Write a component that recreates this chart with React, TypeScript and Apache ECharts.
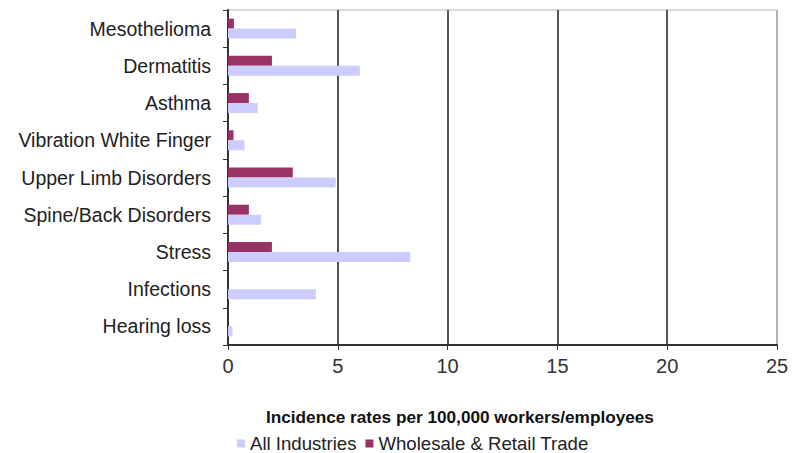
import React, { useEffect, useRef } from "react";
import * as echarts from "echarts";

const categories = [
  "Mesothelioma",
  "Dermatitis",
  "Asthma",
  "Vibration White Finger",
  "Upper Limb Disorders",
  "Spine/Back Disorders",
  "Stress",
  "Infections",
  "Hearing loss",
];
const allIndustries = [3.1, 6.0, 1.35, 0.75, 4.9, 1.5, 8.3, 4.0, 0.2];
const wholesaleRetail = [0.27, 2.0, 0.95, 0.25, 2.95, 0.95, 2.0, 0, 0];
const xTicks = { min: 0, max: 25, interval: 5 };
const axisTitle = "Incidence rates per 100,000 workers/employees";
const legendNames = ["All Industries", "Wholesale & Retail Trade"];

const FONT = '"Liberation Sans", Arial, sans-serif';

export default function App() {
  const ref = useRef<HTMLDivElement>(null);
  useEffect(() => {
    if (!ref.current) return;
    const chart = echarts.init(ref.current, null, { renderer: "svg" });
    chart.setOption({
      animation: false,
      backgroundColor: "#ffffff",
      textStyle: { fontFamily: FONT },
      grid: {
        left: 228,
        right: 15,
        top: 10,
        bottom: 108,
        show: true,
        borderColor: "#b5b5b5",
        borderWidth: 1,
      },
      legend: {
        data: legendNames,
        left: 232,
        top: 429,
        itemWidth: 8,
        itemHeight: 8,
        itemGap: 9,
        icon: "rect",
        textStyle: { fontFamily: FONT, fontSize: 18.6, color: "#222" },
      },
      xAxis: {
        type: "value",
        min: xTicks.min,
        max: xTicks.max,
        interval: xTicks.interval,
        axisLine: { show: true, lineStyle: { color: "#333", width: 2 } },
        axisTick: { show: true, length: 5, lineStyle: { color: "#333", width: 1 } },
        axisLabel: { fontFamily: FONT, fontSize: 20, color: "#333", margin: 11 },
        splitLine: {
          show: true,
          lineStyle: {
            color: ["#555", "#555", "#555", "#555", "#555", "#b5b5b5"],
            width: 2,
          },
        },
      },
      yAxis: {
        type: "category",
        data: categories,
        inverse: true,
        axisLine: { show: true, lineStyle: { color: "#333", width: 2 } },
        axisTick: { show: true, length: 5, lineStyle: { color: "#333" } },
        axisLabel: { fontFamily: FONT, fontSize: 19.5, color: "#222", margin: 17 },
        splitLine: { show: false },
      },
      graphic: [
        {
          type: "text",
          left: 266,
          top: 408,
          style: {
            text: axisTitle,
            fontFamily: FONT,
            fontSize: 17.2,
            fontWeight: "bold",
            fill: "#111",
          },
        },
      ],
      series: [
        {
          name: "Wholesale & Retail Trade",
          type: "bar",
          data: wholesaleRetail,
          barWidth: 10,
          barGap: "0%",
          itemStyle: { color: "#993366" },
        },
        {
          name: "All Industries",
          type: "bar",
          data: allIndustries,
          barWidth: 10,
          barGap: "0%",
          itemStyle: { color: "#ccccff" },
        },
      ],
    });
    return () => chart.dispose();
  }, []);
  return <div ref={ref} style={{ width: 792, height: 453, position: "absolute", left: 0, top: 0 }} />;
}
